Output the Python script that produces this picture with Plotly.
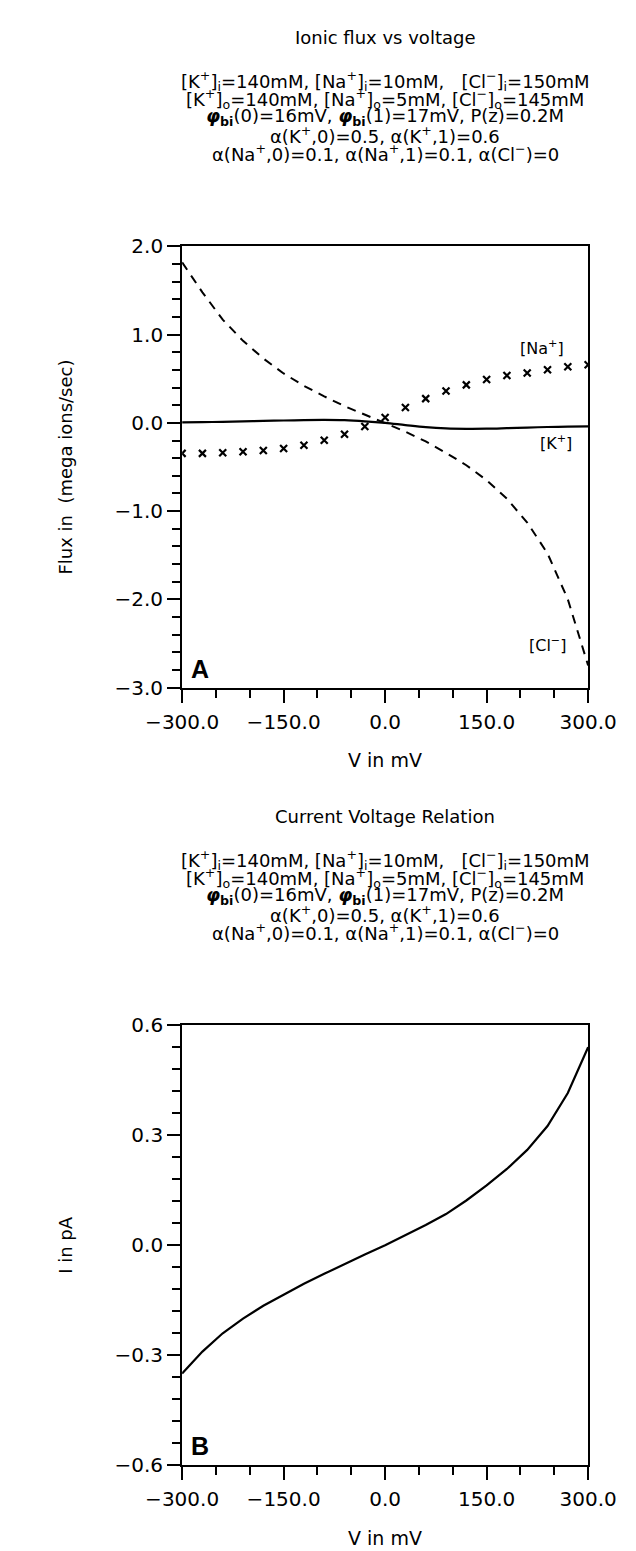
import plotly.graph_objects as go

# ---------------- data ----------------
v_mv = [-300, -270, -240, -210, -180, -150, -120, -90, -60, -30, 0,
        30, 60, 90, 120, 150, 180, 210, 240, 270, 300]

flux_na = [-0.346, -0.346, -0.339, -0.327, -0.313, -0.290, -0.253, -0.197, -0.130, -0.041, 0.060,
           0.175, 0.275, 0.361, 0.431, 0.491, 0.536, 0.565, 0.603, 0.636, 0.658]

flux_k = [0.005, 0.008, 0.012, 0.016, 0.022, 0.027, 0.031, 0.033, 0.030, 0.018, 0.000,
          -0.025, -0.048, -0.062, -0.067, -0.066, -0.060, -0.053, -0.047, -0.043, -0.040]

flux_cl = [1.82, 1.48, 1.17, 0.93, 0.73, 0.56, 0.42, 0.30, 0.19, 0.095, 0.0,
           -0.10, -0.21, -0.34, -0.48, -0.65, -0.86, -1.13, -1.48, -2.0, -2.75]

current_pa = [-0.35, -0.29, -0.24, -0.20, -0.165, -0.135, -0.105, -0.078, -0.051, -0.025, 0.0,
              0.027, 0.055, 0.085, 0.122, 0.163, 0.208, 0.260, 0.325, 0.415, 0.54]

x_ticks = [-300, -150, 0, 150, 300]
x_ticklabels = ["\u2212300.0", "\u2212150.0", "0.0", "150.0", "300.0"]
ya_ticks = [2, 1, 0, -1, -2, -3]
ya_ticklabels = ["2.0", "1.0", "0.0", "\u22121.0", "\u22122.0", "\u22123.0"]
yb_ticks = [0.6, 0.3, 0.0, -0.3, -0.6]
yb_ticklabels = ["0.6", "0.3", "0.0", "\u22120.3", "\u22120.6"]

title_a = "Ionic flux vs voltage"
title_b = "Current Voltage Relation"
param_lines = [
    "[K<sup>+</sup>]<sub>i</sub>=140mM, [Na<sup>+</sup>]<sub>i</sub>=10mM,   [Cl<sup>\u2212</sup>]<sub>i</sub>=150mM",
    "[K<sup>+</sup>]<sub>o</sub>=140mM, [Na<sup>+</sup>]<sub>o</sub>=5mM, [Cl<sup>\u2212</sup>]<sub>o</sub>=145mM",
    "<b><i>\u03c6</i></b><sub><b>bi</b></sub>(0)=16mV, <b><i>\u03c6</i></b><sub><b>bi</b></sub>(1)=17mV, P(z)=0.2M",
    "\u03b1(K<sup>+</sup>,0)=0.5, \u03b1(K<sup>+</sup>,1)=0.6",
    "\u03b1(Na<sup>+</sup>,0)=0.1, \u03b1(Na<sup>+</sup>,1)=0.1, \u03b1(Cl<sup>\u2212</sup>)=0",
]

# ---------------- layout geometry ----------------
W, H = 636, 1551
FONT = "DejaVu Sans"


def px(x):
    return x / W


def py(y):
    return 1 - y / H


xl, xr = 153, 606
a_top, a_bot = 230, 678
b_top, b_bot = 1021, 1468
xc = px((xl + xr) / 2)

fig = go.Figure()

fig.add_trace(go.Scatter(x=v_mv, y=flux_cl, mode="lines", xaxis="x", yaxis="y",
                         line=dict(color="black", width=2, dash="9px,7px"), showlegend=False))
fig.add_trace(go.Scatter(x=v_mv, y=flux_k, mode="lines", xaxis="x", yaxis="y",
                         line=dict(color="black", width=2.2, shape="spline"), showlegend=False))
fig.add_trace(go.Scatter(x=v_mv, y=flux_na, mode="markers", xaxis="x", yaxis="y",
                         marker=dict(symbol="x-thin", size=7, line=dict(color="black", width=2.2)),
                         showlegend=False))
fig.add_trace(go.Scatter(x=v_mv, y=current_pa, mode="lines", xaxis="x2", yaxis="y2",
                         line=dict(color="black", width=2.2), showlegend=False))

axis_common = dict(
    showgrid=False, zeroline=False, showline=True, linecolor="black", linewidth=2,
    mirror=True, ticks="outside", ticklen=13, tickwidth=1.6, tickcolor="black",
    tickfont=dict(family=FONT, size=20, color="black"),
)
minor_common = dict(ticks="outside", ticklen=8, tickwidth=1.6, tickcolor="black")

fig.update_layout(
    width=W, height=H,
    margin=dict(l=0, r=0, t=0, b=0),
    paper_bgcolor="white", plot_bgcolor="white",
    xaxis=dict(domain=[px(xl), px(xr)], anchor="y", range=[-300, 300],
               tickmode="array", tickvals=x_ticks, ticktext=x_ticklabels,
               minor=dict(dtick=50, **minor_common),
               ticklabelstandoff=2, **axis_common),
    yaxis=dict(domain=[py(a_bot), py(a_top)], anchor="x", range=[-3, 2],
               tickmode="array", tickvals=ya_ticks, ticktext=ya_ticklabels,
               minor=dict(dtick=0.2, tick0=0, **minor_common),
               ticklabelstandoff=0, **axis_common),
    xaxis2=dict(domain=[px(xl), px(xr)], anchor="y2", range=[-300, 300],
                tickmode="array", tickvals=x_ticks, ticktext=x_ticklabels,
                minor=dict(dtick=50, **minor_common),
                ticklabelstandoff=2, **axis_common),
    yaxis2=dict(domain=[py(b_bot), py(b_top)], anchor="x2", range=[-0.6, 0.6],
                tickmode="array", tickvals=yb_ticks, ticktext=yb_ticklabels,
                minor=dict(dtick=0.06, tick0=0, **minor_common),
                ticklabelstandoff=0, **axis_common),
)

ann = []


def text(x, y, t, size, **kw):
    d = dict(x=x, y=y, xref="paper", yref="paper", text=t, showarrow=False,
             font=dict(family=FONT, size=size, color="black"), xanchor="center", yanchor="middle")
    d.update(kw)
    ann.append(d)


for top, ttl in [(a_top, title_a), (b_top, title_b)]:
    off = top - a_top
    text(xc, py(18 + off), ttl, 18)
    for i, line in enumerate(param_lines):
        text(xc, py(62 + off + i * 18.3), line, 18)

# axis titles
text(xc, py(a_bot + 74), "V in mV", 19)
text(xc, py(b_bot + 74), "V in mV", 19)
text(px(23), py((a_top + a_bot) / 2), "Flux in  (mega ions/sec)", 18, textangle=-90)
text(px(23), py((b_top + b_bot) / 2), "I in pA", 18, textangle=-90)

# panel letters
ann.append(dict(x=-300, y=-3, xref="x", yref="y", text="<b>A</b>", showarrow=False,
                xanchor="left", yanchor="bottom", xshift=7, yshift=3,
                font=dict(family="Liberation Sans", size=25, color="black")))
ann.append(dict(x=-300, y=-0.6, xref="x2", yref="y2", text="<b>B</b>", showarrow=False,
                xanchor="left", yanchor="bottom", xshift=7, yshift=3,
                font=dict(family="Liberation Sans", size=25, color="black")))

# curve labels
ann.append(dict(x=232, y=0.86, xref="x", yref="y", text="[Na<sup>+</sup>]", showarrow=False,
                font=dict(family=FONT, size=16, color="black")))
ann.append(dict(x=252, y=-0.22, xref="x", yref="y", text="[K<sup>+</sup>]", showarrow=False,
                font=dict(family=FONT, size=16, color="black")))
ann.append(dict(x=240, y=-2.51, xref="x", yref="y", text="[Cl<sup>\u2212</sup>]", showarrow=False,
                font=dict(family=FONT, size=16, color="black")))

fig.update_layout(annotations=ann)
fig.write_html("out.html")
